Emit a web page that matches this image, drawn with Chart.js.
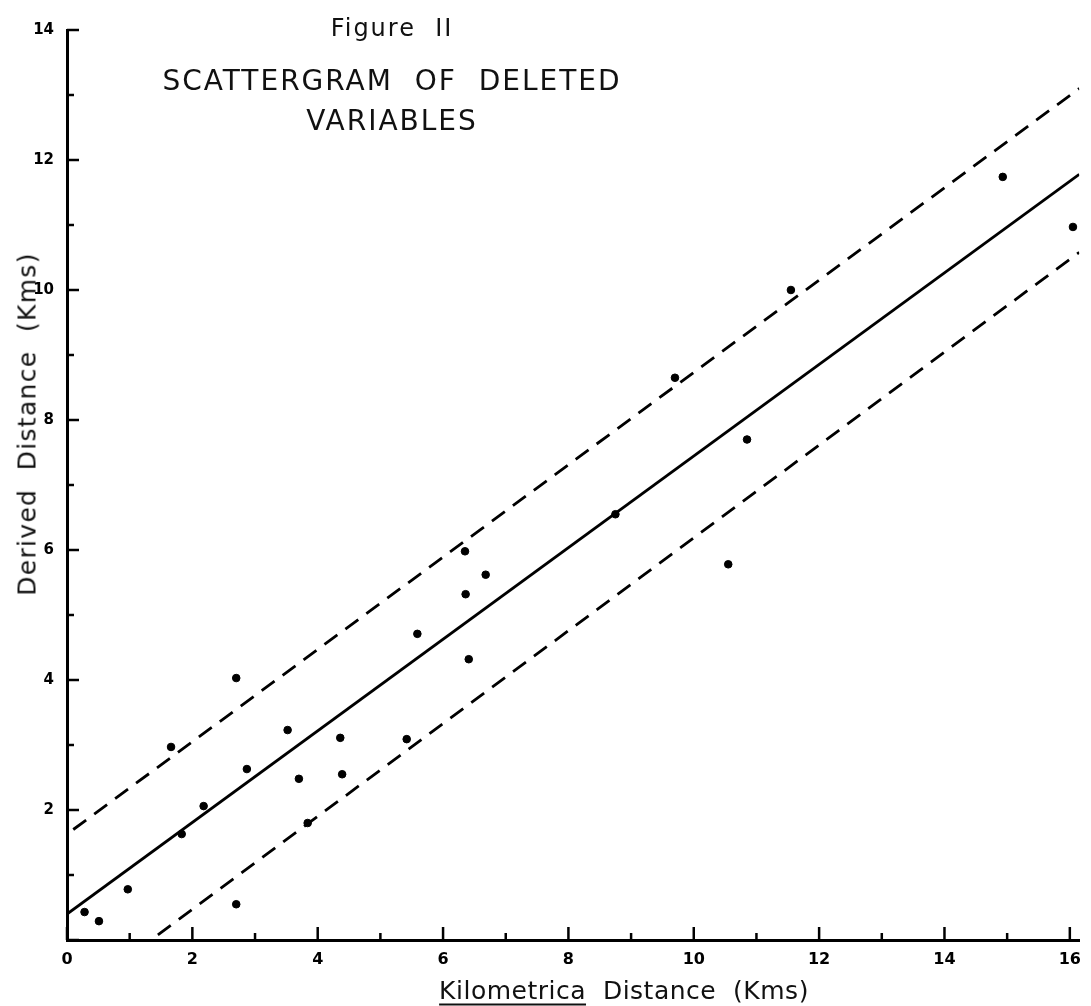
<!DOCTYPE html>
<html>
<head>
<meta charset="utf-8">
<script src="https://cdn.jsdelivr.net/npm/chart.js@4.4.1/dist/chart.umd.min.js"></script>
<style>
  body { margin: 0; background: #fff; }
  #wrap { position: relative; width: 1091px; height: 1006px; font-family: "DejaVu Sans", sans-serif; color: #111; }
  canvas { position: absolute; left: 0; top: 0; }
  .lbl { position: absolute; white-space: pre; transform: translate(-50%, -50%); }
  #fig { left: 392px; top: 28px; font-size: 24px; letter-spacing: 2px; }
  #t1 { left: 392px; top: 80px; font-size: 28px; letter-spacing: 2px; }
  #t2 { left: 392px; top: 120px; font-size: 28px; letter-spacing: 2px; }
  #xt { left: 624px; top: 990px; font-size: 25px; letter-spacing: 0.5px; }
  #xt u { text-decoration-thickness: 2px; text-underline-offset: 5px; }
  #yt { left: 27px; top: 424px; font-size: 25px; letter-spacing: 1.3px; transform: translate(-50%, -50%) rotate(-90deg); }
</style>
</head>
<body>
<div id="wrap">
  <canvas id="myChart" width="1091" height="1006"></canvas>
  <div class="lbl" id="fig">Figure  II</div>
  <div class="lbl" id="t1">SCATTERGRAM  OF  DELETED</div>
  <div class="lbl" id="t2">VARIABLES</div>
  <div class="lbl" id="xt"><u>Kilometrica</u>  Distance  (Kms)</div>
  <div class="lbl" id="yt">Derived  Distance  (Kms)</div>
</div>
<script>
// observed points (Kilometrica distance, derived distance)
var kmX = [0.28, 0.51, 0.97, 1.66, 1.83, 2.18, 2.70, 2.70, 2.87, 3.52, 3.70, 3.84, 4.36, 4.39,
           5.42, 5.59, 6.35, 6.36, 6.41, 6.68, 8.75, 9.70, 10.55, 10.85, 11.55, 14.93, 16.05];
var derivedY = [0.43, 0.29, 0.78, 2.97, 1.63, 2.06, 4.03, 0.55, 2.63, 3.23, 2.48, 1.80, 3.11, 2.55,
                3.09, 4.71, 5.98, 5.32, 4.32, 5.62, 6.55, 8.65, 5.78, 7.70, 10.00, 11.74, 10.97];

// regression line and the two dashed bands (end points)
var fitX = [0, 16.15];
var fitY = [0.40, 11.78];
var upperX = [0.10, 16.15];
var upperY = [1.70, 13.10];
var lowerX = [1.45, 16.15];
var lowerY = [0.08, 10.58];

var xLabels = [0, 2, 4, 6, 8, 10, 12, 14, 16];
var yLabels = [2, 4, 6, 8, 10, 12, 14];

function pts(xs, ys) {
    return xs.map(function (x, i) { return { x: x, y: ys[i] }; });
}

// tick marks point into the plot, long on even values, short on odd
var inwardTicks = {
    id: 'inwardTicks',
    afterDraw: function (chart) {
        var ctx = chart.ctx, a = chart.chartArea;
        var sx = chart.scales.x, sy = chart.scales.y;
        ctx.save();
        ctx.strokeStyle = '#000';
        ctx.lineWidth = 2.5;
        sx.ticks.forEach(function (t) {
            var px = sx.getPixelForValue(t.value);
            var len = t.value % 2 === 0 ? 13 : 7;
            ctx.beginPath(); ctx.moveTo(px, a.bottom); ctx.lineTo(px, a.bottom - len); ctx.stroke();
        });
        sy.ticks.forEach(function (t) {
            var py = sy.getPixelForValue(t.value);
            var len = t.value % 2 === 0 ? 12 : 7;
            ctx.beginPath(); ctx.moveTo(a.left, py); ctx.lineTo(a.left + len, py); ctx.stroke();
        });
        ctx.restore();
    }
};

var ctx = document.getElementById('myChart').getContext('2d');
var chart = new Chart(ctx, {
    type: 'scatter',
    data: {
        datasets: [{
            label: 'points',
            data: pts(kmX, derivedY),
            backgroundColor: '#000',
            borderColor: '#000',
            pointRadius: 3.8,
            pointHoverRadius: 3.8
        }, {
            label: 'fit',
            type: 'line',
            data: pts(fitX, fitY),
            borderColor: '#000',
            borderWidth: 2.8,
            pointRadius: 0,
            fill: false
        }, {
            label: 'upper',
            type: 'line',
            data: pts(upperX, upperY),
            borderColor: '#000',
            borderWidth: 2.8,
            borderDash: [16, 10],
            pointRadius: 0,
            fill: false
        }, {
            label: 'lower',
            type: 'line',
            data: pts(lowerX, lowerY),
            borderColor: '#000',
            borderWidth: 2.8,
            borderDash: [16, 10],
            pointRadius: 0,
            fill: false
        }]
    },
    options: {
        responsive: false,
        animation: false,
        devicePixelRatio: 1,
        layout: { padding: { top: 30, right: 2, left: 0, bottom: 0 } },
        plugins: { legend: { display: false }, tooltip: { enabled: false } },
        scales: {
            x: {
                type: 'linear',
                min: 0,
                max: 16.15,
                grid: { display: false, drawTicks: false },
                border: { display: true, color: '#000', width: 3 },
                ticks: {
                    stepSize: 1,
                    includeBounds: false,
                    autoSkip: false,
                    maxRotation: 0,
                    padding: 10,
                    color: '#000',
                    font: { family: 'DejaVu Sans', size: 16, weight: 'bold' },
                    callback: function (v) { return xLabels.indexOf(v) >= 0 ? String(v) : ''; }
                },
                afterFit: function (scale) { scale.height = 66; }
            },
            y: {
                type: 'linear',
                min: 0,
                max: 14,
                grid: { display: false, drawTicks: false },
                border: { display: true, color: '#000', width: 3 },
                ticks: {
                    stepSize: 1,
                    autoSkip: false,
                    padding: 13,
                    color: '#000',
                    font: { family: 'DejaVu Sans', size: 15, weight: 'bold' },
                    callback: function (v) { return yLabels.indexOf(v) >= 0 ? String(v) : ''; }
                },
                afterFit: function (scale) { scale.width = 67; }
            }
        }
    },
    plugins: [inwardTicks]
});
</script>
</body>
</html>
